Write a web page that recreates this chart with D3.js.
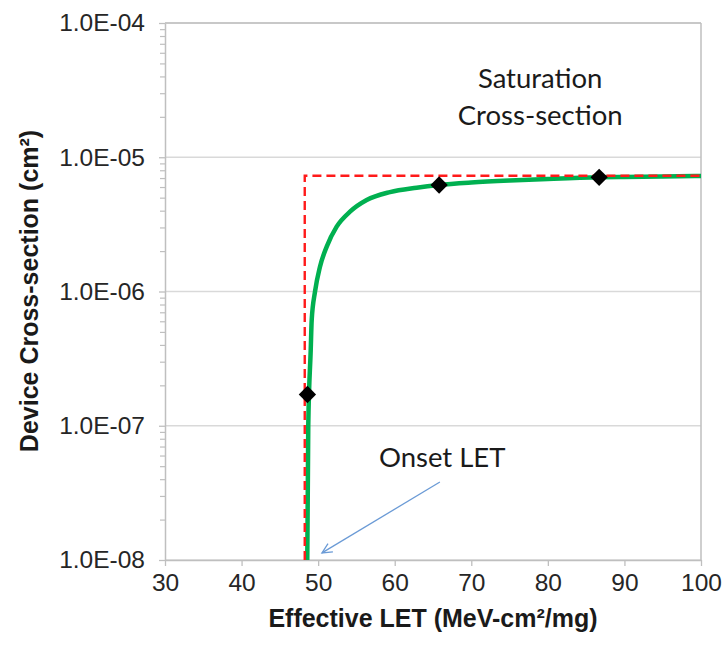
<!DOCTYPE html>
<html><head><meta charset="utf-8">
<script src="https://cdn.jsdelivr.net/npm/d3@7"></script>
<style>body{margin:0;background:#fff}svg{display:block}</style>
</head><body>
<svg id="chart" width="724" height="651"></svg>
<script>
// ---- data ----
const xTickValues = [30, 40, 50, 60, 70, 80, 90, 100];
const yTickValues = [1e-8, 1e-7, 1e-6, 1e-5, 1e-4];
const yTickLabels = ["1.0E-08", "1.0E-07", "1.0E-06", "1.0E-05", "1.0E-04"];
const measuredLET = [48.6, 65.8, 86.7];
const measuredXS = [1.71e-7, 6.21e-6, 7.09e-6];
const fitLET = [48.58, 48.71, 49.03, 49.16, 49.59, 50.24, 51.12, 52.42, 54.16, 56.34, 59.38, 62.87, 65.78, 70, 75, 80, 86.68, 90, 95, 100];
const fitXS = [1e-8, 1e-7, 3.66e-7, 6.14e-7, 9.97e-7, 1.53e-6, 2.16e-6, 3.04e-6, 3.93e-6, 4.80e-6, 5.50e-6, 5.93e-6, 6.21e-6, 6.48e-6, 6.71e-6, 6.89e-6, 7.09e-6, 7.14e-6, 7.20e-6, 7.25e-6];
const onsetLET = 48.25;
const saturationXS = 7.29e-6;
const annotations = [
  {lines: ["Saturation", "Cross-section"], let: 79.0, xs: [3.28e-5, 1.74e-5]},
  {lines: ["Onset LET"], let: 66.2, xs: [4.93e-8]}
];
const arrowFrom = {let: 65.9, xs: 3.81e-8};
const arrowTo = {let: 50.5, xs: 1.13e-8};

// ---- layout ----
const svg = d3.select("#chart");
const m = {left: 165, top: 23, right: 23, bottom: 91};
const W = 724 - m.left - m.right, H = 651 - m.top - m.bottom;
const x = d3.scaleLinear().domain([30, 100]).range([0, W]);
const y = d3.scaleLog().domain([1e-8, 1e-4]).range([H, 0]);
const g = svg.append("g").attr("transform", `translate(${m.left},${m.top})`);
const axisColor = "#bfbfbf", gridColor = "#d9d9d9", tickFont = "Liberation Sans, Arial, sans-serif";

svg.append("defs").append("clipPath").attr("id", "clip")
  .append("rect").attr("x", 0).attr("y", -10).attr("width", W + 5).attr("height", H + 10);

// gridlines
g.selectAll(".grid").data(yTickValues).join("line")
  .attr("x1", 0).attr("x2", W).attr("y1", d => y(d)).attr("y2", d => y(d))
  .attr("stroke", gridColor).attr("stroke-width", 1.3);
// borders
g.append("line").attr("x1", W).attr("x2", W).attr("y1", 0).attr("y2", H).attr("stroke", axisColor).attr("stroke-width", 1.5);
g.append("line").attr("x1", 0).attr("x2", W).attr("y1", 0).attr("y2", 0).attr("stroke", axisColor).attr("stroke-width", 1.5);

// x axis
const xAxis = g.append("g").attr("transform", `translate(0,${H})`)
  .call(d3.axisBottom(x).tickValues(xTickValues).tickSize(6).tickSizeOuter(0).tickPadding(8));
xAxis.select(".domain").attr("stroke", axisColor).attr("stroke-width", 1.5);
xAxis.selectAll(".tick line").attr("stroke", axisColor).attr("stroke-width", 1.3);
xAxis.selectAll(".tick text").attr("font-family", tickFont).attr("font-size", 24.5).attr("fill", "#262626");

// y axis
const minorVals = [];
for (let e = -8; e < -4; e++) for (let k = 2; k <= 9; k++) minorVals.push(k * Math.pow(10, e));
const yAxis = g.append("g")
  .call(d3.axisLeft(y).tickValues(yTickValues).tickFormat((d, i) => yTickLabels[i]).tickSize(6).tickSizeOuter(0).tickPadding(14));
yAxis.select(".domain").attr("stroke", axisColor).attr("stroke-width", 1.5);
yAxis.selectAll(".tick line").attr("stroke", axisColor).attr("stroke-width", 1.3);
yAxis.selectAll(".tick text").attr("font-family", tickFont).attr("font-size", 24.5).attr("fill", "#262626");
const yMinor = g.append("g")
  .call(d3.axisLeft(y).tickValues(minorVals).tickFormat("").tickSize(5).tickSizeOuter(0));
yMinor.select(".domain").remove();
yMinor.selectAll(".tick line").attr("stroke", axisColor).attr("stroke-width", 1.2);

// axis titles
svg.append("text").attr("x", 433).attr("y", 627).attr("text-anchor", "middle")
  .attr("font-family", tickFont).attr("font-weight", "bold").attr("font-size", 25).attr("fill", "#1a1a1a")
  .text("Effective LET (MeV-cm²/mg)");
svg.append("text").attr("transform", "translate(38,291) rotate(-90)").attr("text-anchor", "middle")
  .attr("font-family", tickFont).attr("font-weight", "bold").attr("font-size", 25).attr("fill", "#1a1a1a")
  .text("Device Cross-section (cm²)");

const plot = g.append("g").attr("clip-path", "url(#clip)");

// fit curve
const fitData = fitLET.map((d, i) => [d, fitXS[i]]);
plot.append("path").datum(fitData)
  .attr("d", d3.line().x(d => x(d[0])).y(d => y(d[1])).curve(d3.curveMonotoneX))
  .attr("fill", "none").attr("stroke", "#00b050").attr("stroke-width", 4.5);

// step (onset / saturation) dashed line
const stepData = [[onsetLET, 1e-8], [onsetLET, saturationXS], [100, saturationXS]];
plot.append("path").datum(stepData)
  .attr("d", d3.line().x(d => x(d[0])).y(d => y(d[1])))
  .attr("fill", "none").attr("stroke", "#ff1a1a").attr("stroke-width", 2.4).attr("stroke-dasharray", "9,5");

// measured points
plot.selectAll(".pt").data(measuredLET.map((d, i) => [d, measuredXS[i]])).join("path")
  .attr("transform", d => `translate(${x(d[0])},${y(d[1])}) rotate(45)`)
  .attr("d", d3.symbol().type(d3.symbolSquare).size(150)())
  .attr("fill", "#000");

// annotations
const annFont = "Lato, 'Open Sans', sans-serif";
annotations.forEach(a => {
  a.lines.forEach((t, i) => {
    g.append("text").attr("x", x(a.let)).attr("y", y(a.xs[i])).attr("text-anchor", "middle")
      .attr("font-family", annFont).attr("font-size", 27.5).attr("fill", "#1a1a1a").text(t);
  });
});

// arrow
const ax1 = x(arrowFrom.let), ay1 = y(arrowFrom.xs), ax2 = x(arrowTo.let), ay2 = y(arrowTo.xs);
g.append("line").attr("x1", ax1).attr("y1", ay1).attr("x2", ax2).attr("y2", ay2)
  .attr("stroke", "#6b9bd6").attr("stroke-width", 1.3);
const ang = Math.atan2(ay2 - ay1, ax2 - ax1), hl = 11, hw = 0.45;
g.append("path")
  .attr("d", `M${ax2 - hl * Math.cos(ang - hw)},${ay2 - hl * Math.sin(ang - hw)} L${ax2},${ay2} L${ax2 - hl * Math.cos(ang + hw)},${ay2 - hl * Math.sin(ang + hw)}`)
  .attr("fill", "none").attr("stroke", "#6b9bd6").attr("stroke-width", 1.3);
</script>
</body></html>
